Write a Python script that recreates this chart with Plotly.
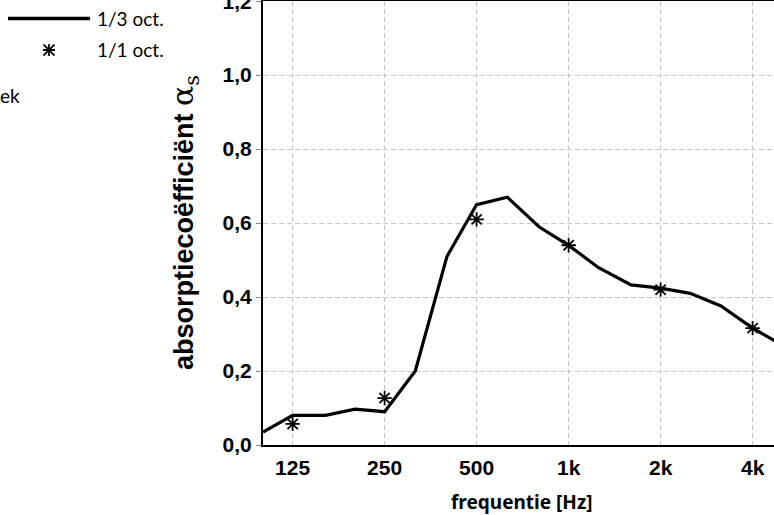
import plotly.graph_objects as go

# 1/3-octave band centre frequencies and absorption coefficients
freq_third = [100, 125, 160, 200, 250, 315, 400, 500, 630, 800, 1000,
              1250, 1600, 2000, 2500, 3150, 4000, 5000]
alpha_third = [0.035, 0.08, 0.08, 0.097, 0.09, 0.20, 0.51, 0.65, 0.67, 0.59,
               0.54, 0.48, 0.433, 0.424, 0.41, 0.376, 0.316, 0.27]

# 1/1-octave band values
freq_oct = [125, 250, 500, 1000, 2000, 4000]
alpha_oct = [0.057, 0.127, 0.61, 0.54, 0.42, 0.316]

x_tick_vals = [125, 250, 500, 1000, 2000, 4000]
x_tick_text = ["125", "250", "500", "1k", "2k", "4k"]
y_tick_vals = [0.0, 0.2, 0.4, 0.6, 0.8, 1.0, 1.2]
y_tick_text = ["0,0", "0,2", "0,4", "0,6", "0,8", "1,0", "1,2"]

W, H = 774, 515
# plot area edges in pixels
PL, PR, PT, PB = 263, 774, 1, 445


def px_x(px):
    return px / W


def px_y(py):
    return (H - py) / H


fig = go.Figure()
fig.add_trace(go.Scatter(
    x=freq_third, y=alpha_third, mode="lines",
    line=dict(color="black", width=3.2), name="1/3 oct.",
    showlegend=False,
))
fig.add_trace(go.Scatter(
    x=freq_oct, y=alpha_oct, mode="markers",
    marker=dict(symbol="asterisk-open", size=12, color="black",
                line=dict(color="black", width=1.8)),
    name="1/1 oct.", showlegend=False,
))

grid = dict(gridcolor="#c4c4c4", gridwidth=1.4, griddash="5px,3px")
tick_font = dict(family="Liberation Sans", size=21, color="black", weight="bold")

fig.update_xaxes(
    type="log", range=[2.0, 3.672],
    domain=[px_x(PL), px_x(PR)],
    tickvals=x_tick_vals, ticktext=x_tick_text,
    showline=True, linecolor="black", linewidth=2, mirror=True,
    ticks="", showgrid=True, zeroline=False, automargin=False,
    tickfont=tick_font,
    ticklabelstandoff=3,
    **grid,
)
fig.update_yaxes(
    range=[0, 1.2004],
    domain=[px_y(PB), px_y(PT)],
    tickvals=y_tick_vals, ticktext=y_tick_text,
    showline=True, linecolor="black", linewidth=2, mirror=False,
    ticks="outside", ticklen=5, tickcolor="#888888", tickwidth=1.2,
    showgrid=True, zeroline=False, automargin=False,
    tickfont=tick_font,
    ticklabelstandoff=0,
    ticklabeloverflow="allow",
    **grid,
)

legend_font = dict(family="Lato", size=19, color="black")

annotations = [
    # y-axis title
    dict(text="<b>absorptiecoëfficiënt</b> "
              "<span style='font-family:DejaVu Serif;font-size:30px'>α"
              "<sub>s</sub></span>",
         xref="paper", yref="paper", x=px_x(185), y=px_y(223),
         textangle=-90, showarrow=False, xanchor="center", yanchor="middle",
         font=dict(family="Liberation Sans", size=27, color="black")),
    # x-axis title
    dict(text="<b>frequentie [Hz]</b>", xref="paper", yref="paper",
         x=px_x(522), y=px_y(502), showarrow=False,
         xanchor="center", yanchor="middle",
         font=dict(family="Noto Sans", size=19, color="black")),
    # legend texts
    dict(text="1/3 oct.", xref="paper", yref="paper", x=px_x(95), y=px_y(18),
         showarrow=False, xanchor="left", yanchor="middle", font=legend_font),
    dict(text="1/1 oct.", xref="paper", yref="paper", x=px_x(95), y=px_y(50),
         showarrow=False, xanchor="left", yanchor="middle", font=legend_font),
    dict(text="ek", xref="paper", yref="paper", x=px_x(-2), y=px_y(95),
         showarrow=False, xanchor="left", yanchor="middle", font=legend_font),
]

shapes = [
    # legend line sample
    dict(type="line", xref="paper", yref="paper",
         x0=px_x(8), x1=px_x(90), y0=px_y(18.5), y1=px_y(18.5),
         line=dict(color="black", width=3.5)),
]

# legend asterisk, drawn on a small hidden axis pair
fig.add_trace(go.Scatter(
    x=[0.5], y=[0.5], xaxis="x2", yaxis="y2", mode="markers",
    marker=dict(symbol="asterisk-open", size=13, color="black",
                line=dict(color="black", width=1.8)),
    showlegend=False, hoverinfo="skip",
))

fig.update_layout(
    width=W, height=H,
    margin=dict(l=0, r=0, t=0, b=0, autoexpand=False),
    plot_bgcolor="white", paper_bgcolor="white",
    annotations=annotations, shapes=shapes,
    xaxis2=dict(domain=[px_x(43), px_x(55)], range=[0, 1], visible=False,
                anchor="y2", automargin=False),
    yaxis2=dict(domain=[px_y(56), px_y(44)], range=[0, 1], visible=False,
                anchor="x2", automargin=False),
)

fig.write_html("out.html")
